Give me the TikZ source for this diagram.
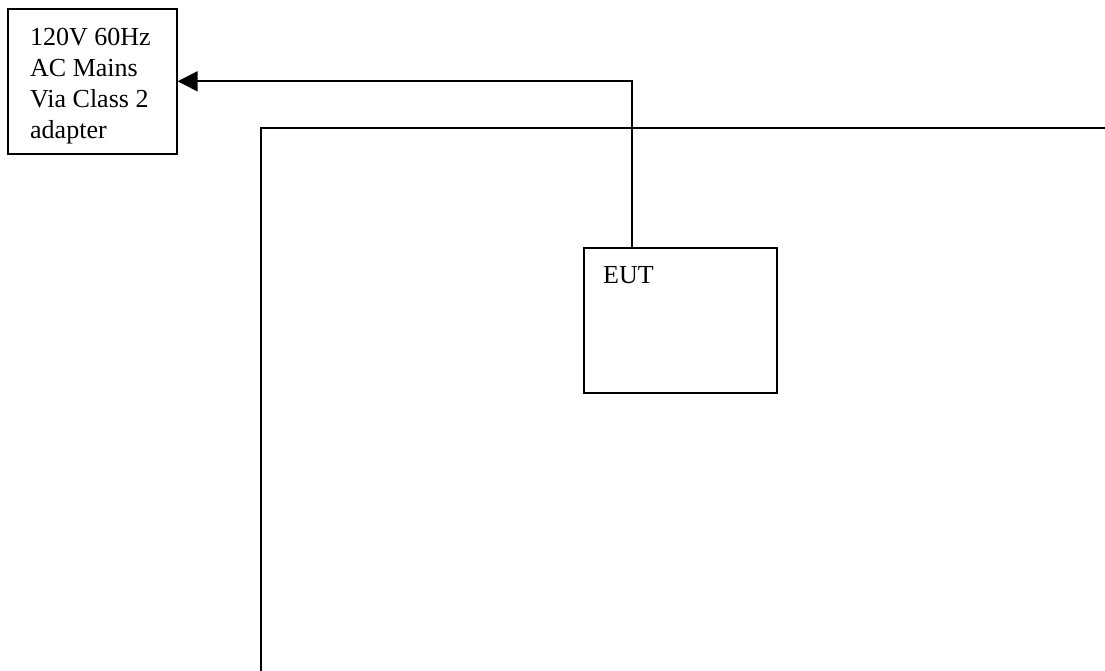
\documentclass[tikz,border=0pt]{standalone}
\usepackage{fontspec}
\setmainfont{Liberation Serif}
\usetikzlibrary{arrows.meta}
\begin{document}
\begin{tikzpicture}[x=1pt,y=-1pt,
  box/.style={draw, line width=1.6pt, inner sep=0pt, anchor=north west},
  label/.style={inner sep=0pt, font=\fontsize{26}{31}\selectfont, align=left},
  feed/.style={line width=1.6pt, -{Triangle[length=20pt,width=20pt]}},
  bench/.style={line width=1.1pt}]
  \useasboundingbox (0,0) rectangle (1105,671);

  % mains supply box
  \node[box, minimum width=169pt, minimum height=145pt] (mains) at (7,8) {};
  \node[label, anchor=north west] (mainstext) at (30,28)
    {120V 60Hz\\AC Mains\\Via Class 2\\adapter};

  % table outline
  \coordinate (tl) at (261,128);
  \coordinate (tr) at (1105,128);
  \coordinate (bl) at (261,671);
  \draw[bench] (tr) -- (tl) -- (bl);

  % equipment under test
  \node[box, minimum width=193pt, minimum height=145pt] (eut) at (583,247) {};
  \node[label, anchor=base west] (euttext) at (603,283) {EUT};

  % power cord
  \coordinate (cord) at (632,247);
  \draw[feed] (cord) |- (mains.east);
\end{tikzpicture}
\end{document}
